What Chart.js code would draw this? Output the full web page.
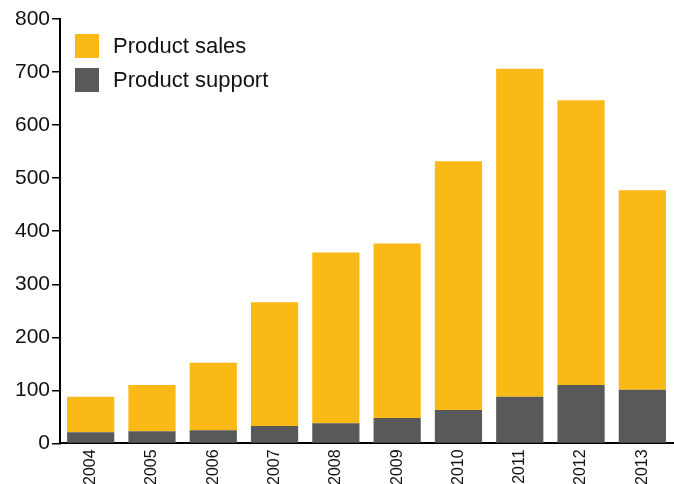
<!DOCTYPE html>
<html>
<head>
<meta charset="utf-8">
<script src="https://cdn.jsdelivr.net/npm/chart.js@4/dist/chart.umd.min.js"></script>
<style>
  html, body { margin: 0; padding: 0; background: #fff; }
  .wrap { position: relative; width: 674px; height: 484px; }
  #legend { position: absolute; left: 75px; top: 29px; font-family: "Liberation Sans", Arial, sans-serif; font-size: 22px; color: #111; }
  #legend div { display: flex; align-items: center; height: 34px; }
  #legend span.box { display: inline-block; width: 24px; height: 24px; margin-right: 14px; }
</style>
</head>
<body>
<div class="wrap">
  <canvas id="chart" width="674" height="484"></canvas>
  <div id="legend"></div>
</div>
<script>
const years = ['2004', '2005', '2006', '2007', '2008', '2009', '2010', '2011', '2012', '2013'];
const productSupport = [21, 23, 25, 33, 38, 48, 63, 88, 110, 101];
const productSales = [67, 87, 127, 233, 322, 329, 469, 618, 537, 376];
const yTicks = [0, 100, 200, 300, 400, 500, 600, 700, 800];

const ctx = document.getElementById('chart').getContext('2d');
const chart = new Chart(ctx, {
  type: 'bar',
  data: {
    labels: years,
    datasets: [
      {
        label: 'Product support',
        data: productSupport,
        backgroundColor: '#58595b',
        categoryPercentage: 0.77,
        barPercentage: 1
      },
      {
        label: 'Product sales',
        data: productSales,
        backgroundColor: '#fbb915',
        categoryPercentage: 0.77,
        barPercentage: 1
      }
    ]
  },
  options: {
    responsive: false,
    animation: false,
    layout: { padding: { top: 19, right: 1, left: 13, bottom: -7 } },
    plugins: {
      legend: { display: false },
      tooltip: { enabled: false }
    },
    scales: {
      x: {
        stacked: true,
        grid: { display: false, drawTicks: false, tickLength: 0 },
        border: { color: '#000', width: 2 },
        ticks: {
          minRotation: 90,
          maxRotation: 90,
          padding: 6,
          color: '#111',
          font: { family: '"Liberation Sans", Arial, sans-serif', size: 16 }
        }
      },
      y: {
        stacked: true,
        min: 0,
        max: 800,
        afterBuildTicks: (axis) => { axis.ticks = yTicks.map(v => ({ value: v })); },
        grid: { drawOnChartArea: false, drawTicks: true, tickLength: 8, color: '#000', lineWidth: 1.5 },
        border: { color: '#000', width: 2 },
        ticks: {
          color: '#111',
          padding: 2,
          font: { family: '"Liberation Sans", Arial, sans-serif', size: 21 }
        }
      }
    }
  }
});

// legend in the top-left corner, sales listed first
const legend = document.getElementById('legend');
chart.data.datasets.slice().reverse().forEach(ds => {
  const row = document.createElement('div');
  const box = document.createElement('span');
  box.className = 'box';
  box.style.background = ds.backgroundColor;
  row.appendChild(box);
  row.appendChild(document.createTextNode(ds.label));
  legend.appendChild(row);
});
</script>
</body>
</html>
